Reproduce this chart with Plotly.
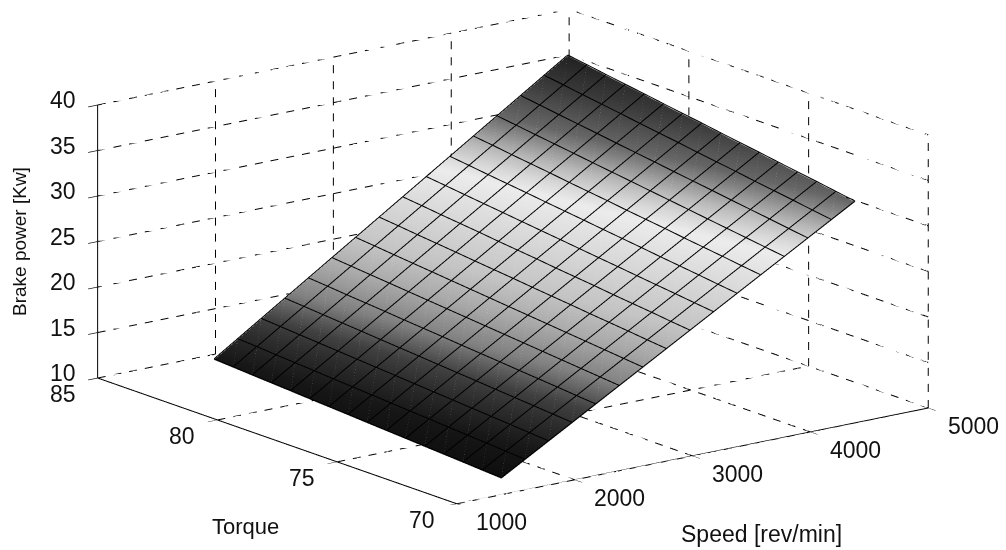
import plotly.graph_objects as go

speed = [1500, 1700, 1900, 2100, 2300, 2500, 2700, 2900, 3100, 3300, 3500, 3700, 3900, 4100, 4300, 4500]
torque = [70.6, 71.4, 72.2, 73.0, 73.8, 74.6, 75.4, 76.2, 77.0, 77.8, 78.6, 79.4, 80.2, 81.0, 81.8, 82.6]
power = [
    [10.90, 12.40, 13.90, 15.40, 16.90, 18.40, 19.90, 21.40, 22.90, 24.40, 25.90, 27.40, 28.90, 30.40, 31.90, 33.40],
    [11.03, 12.54, 14.06, 15.57, 17.08, 18.60, 20.11, 21.62, 23.13, 24.65, 26.16, 27.67, 29.19, 30.70, 32.21, 33.73],
    [11.17, 12.70, 14.22, 15.75, 17.28, 18.80, 20.33, 21.86, 23.39, 24.91, 26.44, 27.97, 29.49, 31.02, 32.55, 34.08],
    [11.30, 12.84, 14.38, 15.92, 17.46, 19.00, 20.54, 22.08, 23.62, 25.16, 26.70, 28.24, 29.78, 31.32, 32.86, 34.40],
    [11.43, 12.98, 14.54, 16.09, 17.64, 19.20, 20.75, 22.30, 23.85, 25.41, 26.96, 28.51, 30.07, 31.62, 33.17, 34.73],
    [11.57, 13.14, 14.70, 16.27, 17.84, 19.40, 20.97, 22.54, 24.11, 25.67, 27.24, 28.81, 30.37, 31.94, 33.51, 35.08],
    [11.70, 13.28, 14.86, 16.44, 18.02, 19.60, 21.18, 22.76, 24.34, 25.92, 27.50, 29.08, 30.66, 32.24, 33.82, 35.40],
    [11.83, 13.42, 15.02, 16.61, 18.20, 19.80, 21.39, 22.98, 24.57, 26.17, 27.76, 29.35, 30.95, 32.54, 34.13, 35.73],
    [11.97, 13.58, 15.18, 16.79, 18.40, 20.00, 21.61, 23.22, 24.83, 26.43, 28.04, 29.65, 31.25, 32.86, 34.47, 36.08],
    [12.10, 13.72, 15.34, 16.96, 18.58, 20.20, 21.82, 23.44, 25.06, 26.68, 28.30, 29.92, 31.54, 33.16, 34.78, 36.40],
    [12.23, 13.86, 15.50, 17.13, 18.76, 20.40, 22.03, 23.66, 25.29, 26.93, 28.56, 30.19, 31.83, 33.46, 35.09, 36.73],
    [12.37, 14.02, 15.66, 17.31, 18.96, 20.60, 22.25, 23.90, 25.55, 27.19, 28.84, 30.49, 32.13, 33.78, 35.43, 37.08],
    [12.50, 14.16, 15.82, 17.48, 19.14, 20.80, 22.46, 24.12, 25.78, 27.44, 29.10, 30.76, 32.42, 34.08, 35.74, 37.40],
    [12.63, 14.30, 15.98, 17.65, 19.32, 21.00, 22.67, 24.34, 26.01, 27.69, 29.36, 31.03, 32.71, 34.38, 36.05, 37.73],
    [12.77, 14.46, 16.14, 17.83, 19.52, 21.20, 22.89, 24.58, 26.27, 27.95, 29.64, 31.33, 33.01, 34.70, 36.39, 38.08],
    [12.90, 14.60, 16.30, 18.00, 19.70, 21.40, 23.10, 24.80, 26.50, 28.20, 29.90, 31.60, 33.30, 35.00, 36.70, 38.40],
]
speed_ticks = [1000, 2000, 3000, 4000, 5000]
torque_ticks = [70, 75, 80, 85]
power_ticks = [10, 15, 20, 25, 30, 35, 40]
gray_stops = [(10.9, 14), (13, 22), (15, 44), (16.4, 64), (17.5, 96), (18.5, 128), (20.7, 168),
              (23, 196), (26, 216), (29, 236), (30, 216), (31.2, 184), (33.4, 102), (36, 60), (38.4, 34)]

zmin, zmax = gray_stops[0][0], gray_stops[-1][0]
colorscale = [[(z - zmin) / (zmax - zmin), f"rgb({g},{g},{g})"] for z, g in gray_stops]

xr = (speed_ticks[0], speed_ticks[-1])
yr = (torque_ticks[0], torque_ticks[-1])
zr = (power_ticks[0], power_ticks[-1])

gx, gy, gz = [], [], []
def dashed(p, q, periods):
    for i in range(periods):
        a = i / periods
        b = (i + 0.5) / periods
        for k, arr in enumerate((gx, gy, gz)):
            arr += [p[k] + (q[k] - p[k]) * a, p[k] + (q[k] - p[k]) * b, None]

for s in speed_ticks:
    dashed((s, yr[0], zr[0]), (s, yr[1], zr[0]), 24)
    dashed((s, yr[1], zr[0]), (s, yr[1], zr[1]), 17)
for t in torque_ticks:
    dashed((xr[0], t, zr[0]), (xr[1], t, zr[0]), 30)
    dashed((xr[1], t, zr[0]), (xr[1], t, zr[1]), 17)
for p in power_ticks:
    dashed((xr[0], yr[1], p), (xr[1], yr[1], p), 30)
    dashed((xr[1], yr[0], p), (xr[1], yr[1], p), 24)

ax, ay, az = [], [], []
def seg(p, q):
    ax.extend([p[0], q[0], None]); ay.extend([p[1], q[1], None]); az.extend([p[2], q[2], None])
seg((xr[0], yr[0], zr[0]), (xr[1], yr[0], zr[0]))
seg((xr[0], yr[0], zr[0]), (xr[0], yr[1], zr[0]))
seg((xr[0], yr[1], zr[0]), (xr[0], yr[1], zr[1]))
seg((xr[1], yr[0], zr[0]), (xr[1], yr[1], zr[0]))

LIFT = 0.1
mx, my, mz = [], [], []
for j, t in enumerate(torque):
    mx += speed + [None]
    my += [t] * len(speed) + [None]
    mz += [v + LIFT for v in power[j]] + [None]
for i, s in enumerate(speed):
    mx += [s] * len(torque) + [None]
    my += torque + [None]
    mz += [row[i] + LIFT for row in power] + [None]

sx, sy, sz = [], [], []
for j in range(len(torque) - 1):
    for i in range(len(speed) - 1):
        sx += [speed[i], speed[i + 1], None]
        sy += [torque[j], torque[j + 1], None]
        sz += [power[j][i] + LIFT / 2, power[j + 1][i + 1] + LIFT / 2, None]

fig = go.Figure()
fig.add_trace(go.Surface(
    x=speed, y=torque, z=power, colorscale=colorscale, cmin=zmin, cmax=zmax, showscale=False,
    lighting=dict(ambient=1, diffuse=0, specular=0, fresnel=0, roughness=1),
    hoverinfo="skip",
))
fig.add_trace(go.Scatter3d(x=gx, y=gy, z=gz, mode="lines", showlegend=False, hoverinfo="skip",
                           line=dict(color="#000000", width=2)))
fig.add_trace(go.Scatter3d(x=ax, y=ay, z=az, mode="lines", showlegend=False, hoverinfo="skip",
                           line=dict(color="#000000", width=2)))
fig.add_trace(go.Scatter3d(x=sx, y=sy, z=sz, mode="lines", showlegend=False, hoverinfo="skip",
                           opacity=0.3, line=dict(color="#ffffff", width=1)))
fig.add_trace(go.Scatter3d(x=mx, y=my, z=mz, mode="lines", showlegend=False, hoverinfo="skip",
                           line=dict(color="#000000", width=2)))

FS = 23
def label(x, y, z, text, xs, ys):
    return dict(x=x, y=y, z=z, text=text, showarrow=False, xanchor="center", yanchor="middle",
                xshift=xs, yshift=ys, font=dict(family="Liberation Sans", size=FS, color="#111111"))

ann = []
for s in speed_ticks:
    ann.append(label(s, yr[0], zr[0], str(s), 45, -18))
for t in torque_ticks:
    ann.append(label(xr[0], t, zr[0], str(t), -35, -16))
for p in power_ticks:
    ann.append(label(xr[0], yr[1], p, str(p), -35, 5))

axis_common = dict(showbackground=False, showgrid=False, zeroline=False, showline=False,
                   showticklabels=False, ticks="outside", ticklen=12, tickcolor="#111111",
                   tickwidth=1.5, title=dict(text=""), showspikes=False)
W, H = 998, 542
def note(text, px, py, size, angle=0):
    return dict(text=text, x=(px - 8) / W, y=1 - (py - 8) / H, xref="paper", yref="paper", showarrow=False,
                xanchor="center", yanchor="middle", textangle=angle,
                font=dict(family="Liberation Sans", size=size, color="#111111"))
fig.update_layout(
    width=W, height=H, margin=dict(l=0, r=0, t=0, b=0), paper_bgcolor="white",
    showlegend=False,
    scene=dict(
        xaxis=dict(range=list(xr), tickvals=speed_ticks, **axis_common),
        yaxis=dict(range=list(yr), tickvals=torque_ticks, **axis_common),
        zaxis=dict(range=list(zr), tickvals=power_ticks, **axis_common),
        aspectmode="manual", aspectratio=dict(x=2.385, y=2.385, z=1.14),
        camera=dict(projection=dict(type="orthographic"),
                    up=dict(x=0, y=0, z=1), center=dict(x=0, y=0, z=0),
                    eye=dict(x=-1.752, y=-2.3, z=0.8)),
        annotations=ann,
        domain=dict(x=[20 / W, 990 / W], y=[1 - 497 / H, 1]),
    ),
    annotations=[
        note("Torque", 245, 526, 22),
        note("Speed [rev/min]", 761, 534, 23),
        note("Brake power [Kw]", 20, 242, 19, -90),
    ],
)
fig.write_html("out.html")
